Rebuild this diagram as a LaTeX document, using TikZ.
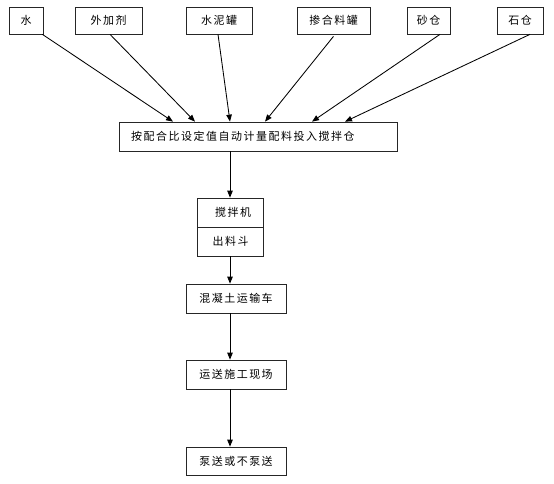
\documentclass[tikz,border=0pt]{standalone}
\usepackage{fontspec}
\newfontfamily\cjk[LetterSpace=14]{Noto Sans CJK SC}
\usetikzlibrary{arrows.meta,calc,shadows}
\begin{document}
\begin{tikzpicture}[x=1bp,y=-1bp,
  box/.style={draw=black!85, line width=0.7bp, fill=white, inner sep=0pt,
    drop shadow={shadow xshift=1bp, shadow yshift=-1bp, fill=black!75, opacity=1},
    font=\cjk\fontsize{11}{12}\selectfont},
  txt/.style={inner sep=0pt, font=\cjk\fontsize{11}{12}\selectfont},
  arr/.style={draw=black, line width=0.85bp, -{Triangle[length=7bp,width=5.5bp]}}]
\useasboundingbox (0,0) rectangle (554,484);
% top boxes
\node[box, minimum width=34bp, minimum height=27bp] (w) at (26,20.5) {水};
\node[box, minimum width=67bp, minimum height=27bp] (wj) at (108.5,20.5) {外加剂};
\node[box, minimum width=66bp, minimum height=27bp] (sn) at (219,20.5) {水泥罐};
\node[box, minimum width=73bp, minimum height=27bp] (ch) at (333.5,20.5) {掺合料罐};
\node[box, minimum width=43bp, minimum height=27bp] (sc) at (428.5,20.5) {砂仓};
\node[box, minimum width=46bp, minimum height=27bp] (shc) at (520,20.5) {石仓};
% main box
\node[box, minimum width=278bp, minimum height=29bp] (m) at (258,136.5) {};
\node[txt, anchor=west] (mt) at (131,136.5) {按配合比设定值自动计量配料投入搅拌仓};
% mixer
\node[box, minimum width=66bp, minimum height=29bp] (mx) at (230,212.5) {\hspace*{6bp}搅拌机};
\node[box, minimum width=66bp, minimum height=29bp] (ml) at (230,241.5) {\hspace*{1bp}出料斗};
% lower boxes
\node[box, minimum width=100bp, minimum height=29bp] (tr) at (236,298.5) {混凝土运输车};
\node[box, minimum width=100bp, minimum height=29bp] (ys) at (236,374.5) {运送施工现场};
\node[box, minimum width=100bp, minimum height=28bp] (bs) at (236,461) {泵送或不泵送};
% arrows
\draw[arr] ($(w.south east)+(-1,0)$) -- ($(m.north)+(-85,0)$);
\draw[arr] ($(wj.south)+(1.5,0)$) -- ($(m.north)+(-63,0)$);
\draw[arr] ($(sn.south)+(-1,0)$) -- ($(m.north)+(-28,0)$);
\draw[arr] ($(ch.south)+(0,2)$) -- ($(m.north)+(7,0)$);
\draw[arr] ($(sc.south)+(11.5,0)$) -- ($(m.north)+(54,0)$);
\draw[arr] ($(shc.south)+(10,0)$) -- ($(m.north)+(87,0)$);
\draw[arr] (m.south -| mx.north) -- (mx.north);
\draw[arr] (ml.south) -- (ml.south |- tr.north);
\draw[arr] (tr.south -| ml.south) -- (ys.north -| ml.south);
\draw[arr] (ys.south -| ml.south) -- (bs.north -| ml.south);
\end{tikzpicture}
\end{document}
